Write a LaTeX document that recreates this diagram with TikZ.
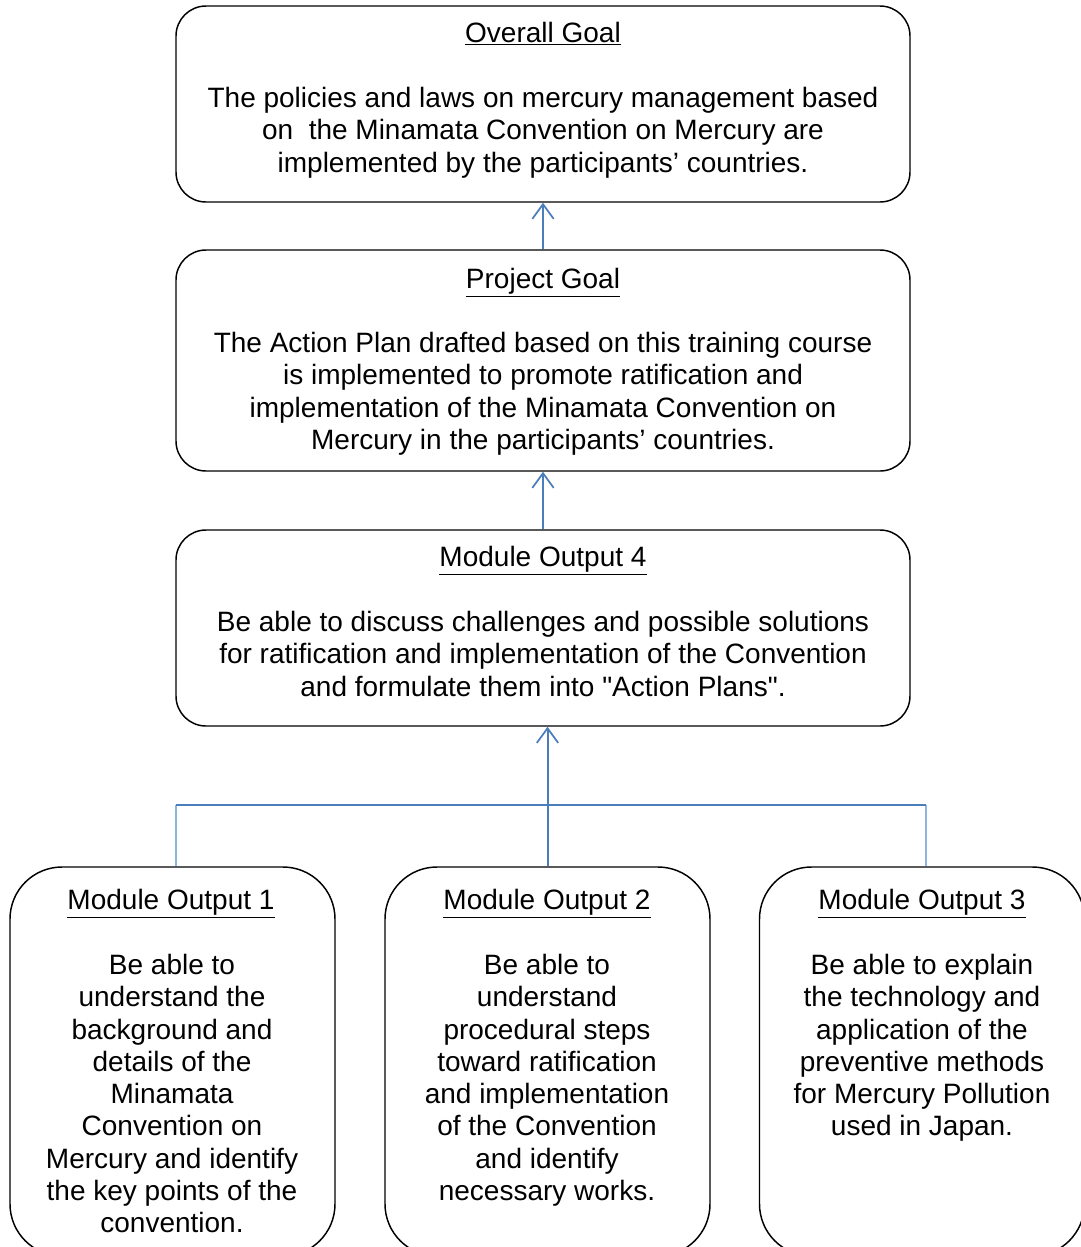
\documentclass[tikz,border=0pt]{standalone}
\usepackage{fontspec}
\setmainfont{Liberation Sans}[Ligatures=TeXOff]
\usetikzlibrary{arrows.meta}
\definecolor{lineblue}{HTML}{4A7EBB}
\definecolor{lightblue}{HTML}{8EB4E3}
\begin{document}
\begin{tikzpicture}[x=0.75pt,y=-0.75pt,
  bigbox/.style={draw=black, line width=1.1pt, rounded corners=22.5pt, inner sep=0pt,
    minimum width=550.5pt},
  smallbox/.style={draw=black, line width=1.1pt, rounded corners=39pt, inner sep=0pt,
    minimum width=243.75pt, minimum height=291.75pt},
  txt/.style={inner sep=0pt, align=center, anchor=north,
    font=\fontsize{21}{24.2}\selectfont},
  arr/.style={draw=lineblue, line width=1.5pt, -{Straight Barb[length=11pt,width=16pt,line width=1.3pt]}},
  link/.style={draw=lineblue, line width=1.5pt},
  sidelink/.style={draw=lightblue, line width=2pt}]
\useasboundingbox (0,0) rectangle (1081,1247);
\clip (0,0) rectangle (1081,1247);
\fill[white] (0,0) rectangle (1081,1247);

% boxes
\node[bigbox, minimum height=147pt] (og) at (543,104) {};
\node[bigbox, minimum height=165.75pt] (pg) at (543,360.5) {};
\node[bigbox, minimum height=147pt] (mo4) at (543,628) {};
\node[smallbox] (m1) at (172.5,1061.5) {};
\node[smallbox] (m2) at (547.5,1061.5) {};
\node[smallbox] (m3) at (922,1061.5) {};

% texts
\node[txt] (ogt) at (543,22) {\underline{Overall Goal}};
\node[txt] (ogb) at (543,87) {The policies and laws on mercury management based\\on\ \ the Minamata Convention on Mercury are\\implemented by the participants’ countries.};
\node[txt] (pgt) at (543,268) {\underline{Project Goal}};
\node[txt] (pgb) at (543,332) {The Action Plan drafted based on this training course\\is implemented to promote ratification and\\implementation of the Minamata Convention on\\Mercury in the participants’ countries.};
\node[txt] (mo4t) at (543,546) {\underline{Module Output 4}};
\node[txt] (mo4b) at (543,611) {Be able to discuss challenges and possible solutions\\for ratification and implementation of the Convention\\and formulate them into "Action Plans".};
\node[txt] (m1t) at (171,889) {\underline{Module Output 1}};
\node[txt] (m1b) at (172,954) {Be able to\\understand the\\background and\\details of the\\Minamata\\Convention on\\Mercury and identify\\the key points of the\\convention.};
\node[txt] (m2t) at (547,889) {\underline{Module Output 2}};
\node[txt] (m2b) at (547,954) {Be able to\\understand\\procedural steps\\toward ratification\\and implementation\\of the Convention\\and identify\\necessary works.};
\node[txt] (m3t) at (922,889) {\underline{Module Output 3}};
\node[txt] (m3b) at (922,954) {Be able to explain\\the technology and\\application of the\\preventive methods\\for Mercury Pollution\\used in Japan.};

% connectors
\coordinate (hl) at (176,805);
\coordinate (hr) at (926,805);
\draw[arr] (pg.north) -- (og.south);
\draw[arr] (mo4.north) -- (pg.south);
\draw[sidelink] (hl) -- (hl |- m1.north);
\draw[sidelink] (hr) -- (hr |- m3.north);
\draw[link] (hl) -- (hr);
\draw[arr] (m2.north) -- (m2.north |- mo4.south);
\end{tikzpicture}
\end{document}
